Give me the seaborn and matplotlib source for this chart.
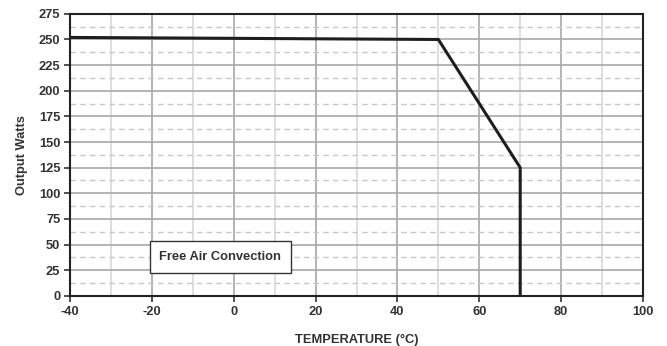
import matplotlib
matplotlib.use("Agg")
import matplotlib.pyplot as plt
import seaborn as sns
import pandas as pd
import numpy as np
from matplotlib.ticker import MultipleLocator

temperature = [-40, 50, 70, 70]
output_watts = [252, 250, 125, 0]
x_ticks = [-40, -20, 0, 20, 40, 60, 80, 100]
y_ticks = [0, 25, 50, 75, 100, 125, 150, 175, 200, 225, 250, 275]

sns.set_theme(style="white")
plt.rcParams['font.family'] = ['Liberation Sans', 'DejaVu Sans']

fig = plt.figure(figsize=(6.67, 3.46), dpi=100)
ax = fig.add_axes([0.105, 0.145, 0.859, 0.815])

df = pd.DataFrame({"T": temperature, "W": output_watts})
ax.set_xlim(-40, 100)
ax.set_ylim(0, 275)
ax.xaxis.set_major_locator(MultipleLocator(20))
ax.xaxis.set_minor_locator(MultipleLocator(10))
ax.yaxis.set_major_locator(MultipleLocator(25))
ax.yaxis.set_minor_locator(MultipleLocator(12.5))
ax.grid(which='major', color='#a8a8a8', linewidth=1.2, linestyle='-')
ax.grid(which='minor', axis='x', color='#d8d8d8', linewidth=1.2, linestyle='-')
ax.grid(which='minor', axis='y', color='#c8c8c8', linewidth=1.0, linestyle=(0, (4, 3)))
ax.set_axisbelow(True)

sns.lineplot(data=df, x="T", y="W", ax=ax, color='#1e1e1e', linewidth=2.2, sort=False, estimator=None)

fs = 9.3
ax.set_xticks(x_ticks)
ax.set_yticks(y_ticks)
ax.set_xticklabels([str(v) for v in x_ticks], fontweight='bold', fontsize=fs, color='#333333')
ax.set_yticklabels([str(v) for v in y_ticks], fontweight='bold', fontsize=fs, color='#333333')
ax.tick_params(axis='both', which='major', length=4, width=1.2, color='#333333', bottom=True, left=True, pad=3)
ax.tick_params(axis='both', which='minor', length=0)
for s in ax.spines.values():
    s.set_color('#222222')
    s.set_linewidth(1.5)

ax.set_xlabel("TEMPERATURE (°C)", fontweight='bold', fontsize=fs, color='#333333', labelpad=12)
ax.set_ylabel("Output Watts", fontweight='bold', fontsize=fs, color='#333333', labelpad=8)

ax.text(-18.2, 38, "Free Air Convection", fontweight='bold', fontsize=fs, color='#333333',
        va='center', ha='left',
        bbox=dict(boxstyle='square,pad=0.75', facecolor='white', edgecolor='#333333', linewidth=1.0))

fig.savefig("out.png", dpi=100)
